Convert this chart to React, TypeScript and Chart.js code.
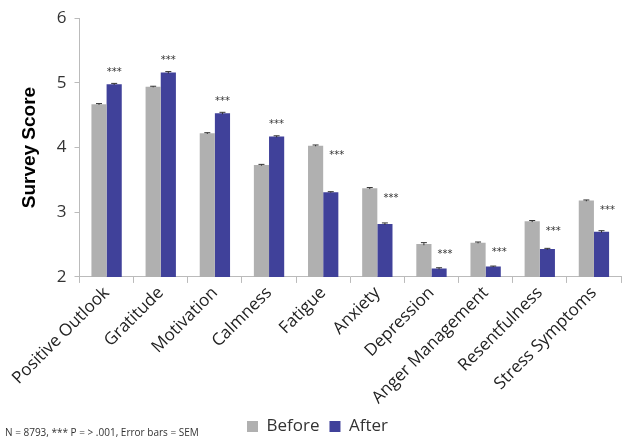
import React, { useEffect, useRef } from "react";
import { Chart, registerables } from "chart.js";

Chart.register(...registerables);

const categories = [
  "Positive Outlook",
  "Gratitude",
  "Motivation",
  "Calmness",
  "Fatigue",
  "Anxiety",
  "Depression",
  "Anger Management",
  "Resentfulness",
  "Stress Symptoms",
];
const beforeValues = [4.67, 4.94, 4.22, 3.73, 4.03, 3.37, 2.51, 2.53, 2.86, 3.18];
const afterValues = [4.98, 5.16, 4.53, 4.17, 3.31, 2.82, 2.13, 2.16, 2.43, 2.7];
const beforeErr = [0.01, 0.008, 0.01, 0.01, 0.01, 0.012, 0.02, 0.01, 0.012, 0.01];
const afterErr = [0.012, 0.015, 0.015, 0.012, 0.008, 0.015, 0.012, 0.008, 0.012, 0.015];
const significance = ["***", "***", "***", "***", "***", "***", "***", "***", "***", "***"];
const yTicks = [2, 3, 4, 5, 6];
const footnote = "N = 8793, *** P = > .001, Error bars = SEM";

const BEFORE_COLOR = "#b0b0b0";
const AFTER_COLOR = "#40419a";

const errorBarPlugin = {
  id: "errorBars",
  afterDatasetsDraw(chart: any) {
    const ctx = chart.ctx;
    const y = chart.scales.y;
    const errs = [beforeErr, afterErr];
    ctx.save();
    ctx.strokeStyle = "#333";
    ctx.lineWidth = 1;
    chart.data.datasets.forEach((ds: any, di: number) => {
      const meta = chart.getDatasetMeta(di);
      meta.data.forEach((bar: any, i: number) => {
        const v = ds.data[i];
        const e = errs[di][i];
        const top = y.getPixelForValue(v + e);
        const bot = y.getPixelForValue(v - e);
        const x = bar.x;
        ctx.beginPath();
        ctx.moveTo(x, top);
        ctx.lineTo(x, bot);
        ctx.moveTo(x - 3, top);
        ctx.lineTo(x + 3, top);
        ctx.stroke();
      });
    });
    const metaA = chart.getDatasetMeta(1);
    ctx.fillStyle = "#333";
    ctx.font = "10px 'DejaVu Sans'";
    ctx.textAlign = "center";
    ctx.textBaseline = "middle";
    significance.forEach((s, i) => {
      const b = beforeValues[i];
      const a = afterValues[i];
      let x = metaA.data[i].x;
      let py;
      if (a >= b) {
        py = y.getPixelForValue(a) - 12;
      } else {
        py = y.getPixelForValue(b) + 10;
        x += 6;
      }
      ctx.fillText(s, x, py);
    });
    ctx.restore();
  },
  afterDraw(chart: any) {
    const ctx = chart.ctx;
    ctx.save();
    ctx.fillStyle = "#333";
    ctx.font = "10px 'Open Sans'";
    ctx.textAlign = "left";
    ctx.textBaseline = "alphabetic";
    ctx.fillText(footnote, 5, 436);
    ctx.restore();
  },
};

export default function App() {
  const ref = useRef<HTMLCanvasElement>(null);
  useEffect(() => {
    document.body.style.margin = "0";
    const chart = new Chart(ref.current!, {
      type: "bar",
      data: {
        labels: categories,
        datasets: [
          {
            label: "Before",
            data: beforeValues,
            backgroundColor: BEFORE_COLOR,
            categoryPercentage: 0.56,
            barPercentage: 1,
          },
          {
            label: "After",
            data: afterValues,
            backgroundColor: AFTER_COLOR,
            categoryPercentage: 0.56,
            barPercentage: 1,
          },
        ],
      },
      options: {
        animation: false,
        responsive: false,
        layout: { padding: { left: 14, right: 3, top: 8, bottom: -7 } },
        plugins: {
          legend: {
            position: "bottom",
            labels: {
              boxWidth: 11,
              boxHeight: 11,
              color: "#333",
              font: { family: "'Open Sans'", size: 17 },
              padding: 10,
            },
          },
          tooltip: { enabled: false },
        },
        scales: {
          x: {
            grid: {
              display: true,
              drawOnChartArea: false,
              drawTicks: true,
              tickLength: 6,
              color: "#bbb",
              offset: true,
            },
            border: { color: "#bbb" },
            ticks: {
              minRotation: 45,
              maxRotation: 45,
              color: "#222",
              font: { family: "'Open Sans'", size: 17 },
              padding: 0,
            },
          },
          y: {
            min: 2,
            max: 6,
            afterBuildTicks(scale: any) {
              scale.ticks = yTicks.map((v) => ({ value: v }));
            },
            grid: {
              display: true,
              drawOnChartArea: false,
              drawTicks: true,
              tickLength: 5,
              color: "#bbb",
            },
            border: { color: "#bbb" },
            ticks: {
              color: "#333",
              font: { family: "'Open Sans'", size: 17 },
              padding: 8,
            },
            title: {
              display: true,
              text: "Survey Score",
              color: "#000",
              font: { family: "'Liberation Sans'", size: 19, weight: "bold" },
              padding: { bottom: 8 },
            },
          },
        },
      },
      plugins: [errorBarPlugin],
    });
    return () => chart.destroy();
  }, []);
  return <canvas ref={ref} width={624} height={438} />;
}
